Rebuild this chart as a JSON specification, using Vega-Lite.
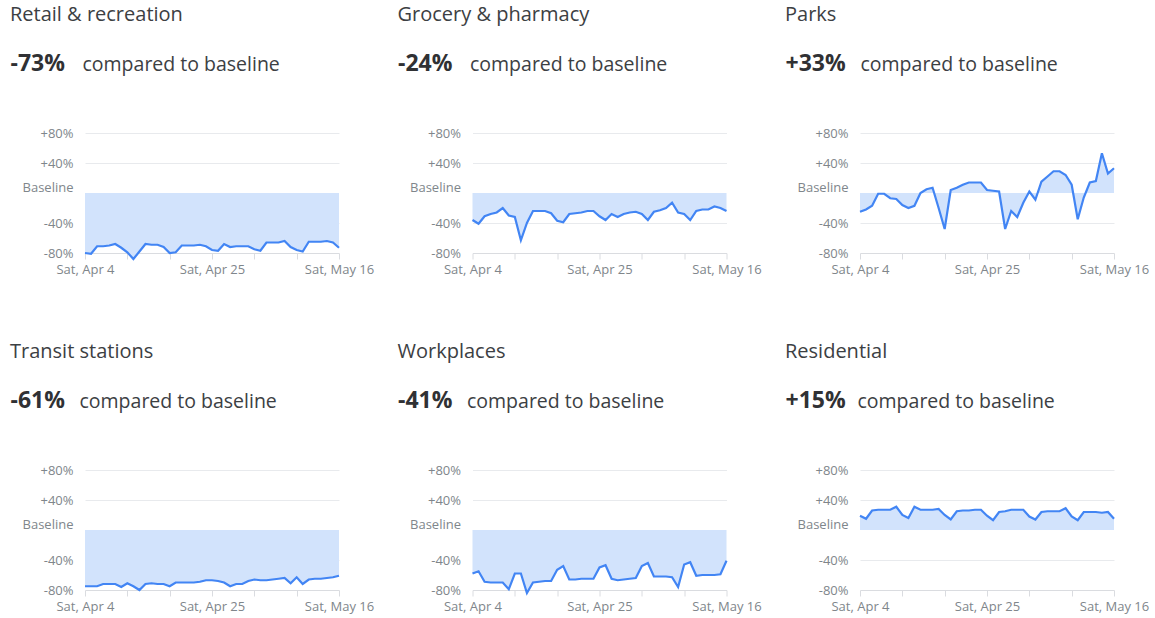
{
  "$schema": "https://vega.github.io/schema/vega-lite/v6.json",
  "padding": {"left": 10, "top": 5, "right": 5, "bottom": 5},
  "background": "white",
  "columns": 3,
  "spacing": {"row": 66, "column": 23.5},
  "config": {
    "font": "Open Sans",
    "view": {"stroke": null},
    "title": {"anchor": "start", "frame": "group", "dx": -75, "fontSize": 20, "fontWeight": "normal", "color": "#3c4043", "offset": 27},
    "axisX": {"title": null, "grid": false, "domain": true, "domainColor": "#dadce0", "tickColor": "#dadce0", "tickSize": 6, "labelFontSize": 13, "labelColor": "#80868b", "labelPadding": 4, "labelFlush": false, "labelOverlap": false},
    "axisLeft": {"grid": true, "gridColor": "#e8eaed", "domain": false, "ticks": false, "labelPadding": 12, "labelFontSize": 13, "labelColor": "#80868b", "titleAngle": 0, "titleAlign": "left", "titleBaseline": "alphabetic", "titleY": -63, "titleFontSize": 23, "titleFontWeight": "bold", "titleColor": "#303134"},
    "axisRight": {"labels": false, "ticks": false, "domain": false, "grid": false, "titleAngle": 0, "titleAlign": "left", "titleBaseline": "alphabetic", "titleY": -63, "titleFontSize": 19.5, "titleFontWeight": "normal", "titleColor": "#3c4043"}
  },
  "datasets": {
    "retail": [
      {"date": "2020-04-04", "change": -80}, {"date": "2020-04-05", "change": -81}, {"date": "2020-04-06", "change": -71}, {"date": "2020-04-07", "change": -71}, {"date": "2020-04-08", "change": -70}, {"date": "2020-04-09", "change": -68}, {"date": "2020-04-10", "change": -73}, {"date": "2020-04-11", "change": -79}, {"date": "2020-04-12", "change": -88}, {"date": "2020-04-13", "change": -78}, {"date": "2020-04-14", "change": -68}, {"date": "2020-04-15", "change": -69}, {"date": "2020-04-16", "change": -69}, {"date": "2020-04-17", "change": -72}, {"date": "2020-04-18", "change": -80}, {"date": "2020-04-19", "change": -79}, {"date": "2020-04-20", "change": -70}, {"date": "2020-04-21", "change": -70}, {"date": "2020-04-22", "change": -70}, {"date": "2020-04-23", "change": -69}, {"date": "2020-04-24", "change": -71}, {"date": "2020-04-25", "change": -76}, {"date": "2020-04-26", "change": -77}, {"date": "2020-04-27", "change": -68}, {"date": "2020-04-28", "change": -72}, {"date": "2020-04-29", "change": -71}, {"date": "2020-04-30", "change": -71}, {"date": "2020-05-01", "change": -71}, {"date": "2020-05-02", "change": -75}, {"date": "2020-05-03", "change": -77}, {"date": "2020-05-04", "change": -66}, {"date": "2020-05-05", "change": -66}, {"date": "2020-05-06", "change": -66}, {"date": "2020-05-07", "change": -64}, {"date": "2020-05-08", "change": -72}, {"date": "2020-05-09", "change": -76}, {"date": "2020-05-10", "change": -78}, {"date": "2020-05-11", "change": -65}, {"date": "2020-05-12", "change": -65}, {"date": "2020-05-13", "change": -65}, {"date": "2020-05-14", "change": -64}, {"date": "2020-05-15", "change": -66}, {"date": "2020-05-16", "change": -73}
    ],
    "grocery": [
      {"date": "2020-04-04", "change": -36}, {"date": "2020-04-05", "change": -41}, {"date": "2020-04-06", "change": -31}, {"date": "2020-04-07", "change": -28}, {"date": "2020-04-08", "change": -26}, {"date": "2020-04-09", "change": -20}, {"date": "2020-04-10", "change": -30}, {"date": "2020-04-11", "change": -32}, {"date": "2020-04-12", "change": -63}, {"date": "2020-04-13", "change": -40}, {"date": "2020-04-14", "change": -24}, {"date": "2020-04-15", "change": -24}, {"date": "2020-04-16", "change": -24}, {"date": "2020-04-17", "change": -27}, {"date": "2020-04-18", "change": -37}, {"date": "2020-04-19", "change": -39}, {"date": "2020-04-20", "change": -28}, {"date": "2020-04-21", "change": -27}, {"date": "2020-04-22", "change": -26}, {"date": "2020-04-23", "change": -24}, {"date": "2020-04-24", "change": -24}, {"date": "2020-04-25", "change": -31}, {"date": "2020-04-26", "change": -36}, {"date": "2020-04-27", "change": -28}, {"date": "2020-04-28", "change": -32}, {"date": "2020-04-29", "change": -28}, {"date": "2020-04-30", "change": -26}, {"date": "2020-05-01", "change": -25}, {"date": "2020-05-02", "change": -28}, {"date": "2020-05-03", "change": -36}, {"date": "2020-05-04", "change": -25}, {"date": "2020-05-05", "change": -23}, {"date": "2020-05-06", "change": -20}, {"date": "2020-05-07", "change": -13}, {"date": "2020-05-08", "change": -26}, {"date": "2020-05-09", "change": -28}, {"date": "2020-05-10", "change": -36}, {"date": "2020-05-11", "change": -24}, {"date": "2020-05-12", "change": -22}, {"date": "2020-05-13", "change": -22}, {"date": "2020-05-14", "change": -18}, {"date": "2020-05-15", "change": -20}, {"date": "2020-05-16", "change": -24}
    ],
    "parks": [
      {"date": "2020-04-04", "change": -25}, {"date": "2020-04-05", "change": -22}, {"date": "2020-04-06", "change": -17}, {"date": "2020-04-07", "change": -1}, {"date": "2020-04-08", "change": -1}, {"date": "2020-04-09", "change": -7}, {"date": "2020-04-10", "change": -8}, {"date": "2020-04-11", "change": -16}, {"date": "2020-04-12", "change": -20}, {"date": "2020-04-13", "change": -17}, {"date": "2020-04-14", "change": 0}, {"date": "2020-04-15", "change": 5}, {"date": "2020-04-16", "change": 7}, {"date": "2020-04-17", "change": -20}, {"date": "2020-04-18", "change": -48}, {"date": "2020-04-19", "change": 4}, {"date": "2020-04-20", "change": 7}, {"date": "2020-04-21", "change": 11}, {"date": "2020-04-22", "change": 14}, {"date": "2020-04-23", "change": 14}, {"date": "2020-04-24", "change": 14}, {"date": "2020-04-25", "change": 4}, {"date": "2020-04-26", "change": 3}, {"date": "2020-04-27", "change": 2}, {"date": "2020-04-28", "change": -48}, {"date": "2020-04-29", "change": -24}, {"date": "2020-04-30", "change": -32}, {"date": "2020-05-01", "change": -13}, {"date": "2020-05-02", "change": 2}, {"date": "2020-05-03", "change": -9}, {"date": "2020-05-04", "change": 15}, {"date": "2020-05-05", "change": 22}, {"date": "2020-05-06", "change": 29}, {"date": "2020-05-07", "change": 29}, {"date": "2020-05-08", "change": 24}, {"date": "2020-05-09", "change": 11}, {"date": "2020-05-10", "change": -35}, {"date": "2020-05-11", "change": -6}, {"date": "2020-05-12", "change": 14}, {"date": "2020-05-13", "change": 16}, {"date": "2020-05-14", "change": 53}, {"date": "2020-05-15", "change": 26}, {"date": "2020-05-16", "change": 33}
    ],
    "transit": [
      {"date": "2020-04-04", "change": -75}, {"date": "2020-04-05", "change": -75}, {"date": "2020-04-06", "change": -75}, {"date": "2020-04-07", "change": -72}, {"date": "2020-04-08", "change": -72}, {"date": "2020-04-09", "change": -72}, {"date": "2020-04-10", "change": -76}, {"date": "2020-04-11", "change": -71}, {"date": "2020-04-12", "change": -75}, {"date": "2020-04-13", "change": -80}, {"date": "2020-04-14", "change": -72}, {"date": "2020-04-15", "change": -71}, {"date": "2020-04-16", "change": -72}, {"date": "2020-04-17", "change": -72}, {"date": "2020-04-18", "change": -75}, {"date": "2020-04-19", "change": -70}, {"date": "2020-04-20", "change": -70}, {"date": "2020-04-21", "change": -70}, {"date": "2020-04-22", "change": -70}, {"date": "2020-04-23", "change": -69}, {"date": "2020-04-24", "change": -67}, {"date": "2020-04-25", "change": -67}, {"date": "2020-04-26", "change": -68}, {"date": "2020-04-27", "change": -70}, {"date": "2020-04-28", "change": -75}, {"date": "2020-04-29", "change": -72}, {"date": "2020-04-30", "change": -72}, {"date": "2020-05-01", "change": -68}, {"date": "2020-05-02", "change": -66}, {"date": "2020-05-03", "change": -67}, {"date": "2020-05-04", "change": -67}, {"date": "2020-05-05", "change": -66}, {"date": "2020-05-06", "change": -65}, {"date": "2020-05-07", "change": -64}, {"date": "2020-05-08", "change": -71}, {"date": "2020-05-09", "change": -63}, {"date": "2020-05-10", "change": -72}, {"date": "2020-05-11", "change": -66}, {"date": "2020-05-12", "change": -65}, {"date": "2020-05-13", "change": -65}, {"date": "2020-05-14", "change": -64}, {"date": "2020-05-15", "change": -63}, {"date": "2020-05-16", "change": -61}
    ],
    "workplaces": [
      {"date": "2020-04-04", "change": -58}, {"date": "2020-04-05", "change": -55}, {"date": "2020-04-06", "change": -69}, {"date": "2020-04-07", "change": -70}, {"date": "2020-04-08", "change": -70}, {"date": "2020-04-09", "change": -70}, {"date": "2020-04-10", "change": -79}, {"date": "2020-04-11", "change": -58}, {"date": "2020-04-12", "change": -58}, {"date": "2020-04-13", "change": -84}, {"date": "2020-04-14", "change": -70}, {"date": "2020-04-15", "change": -69}, {"date": "2020-04-16", "change": -68}, {"date": "2020-04-17", "change": -68}, {"date": "2020-04-18", "change": -53}, {"date": "2020-04-19", "change": -48}, {"date": "2020-04-20", "change": -66}, {"date": "2020-04-21", "change": -66}, {"date": "2020-04-22", "change": -65}, {"date": "2020-04-23", "change": -65}, {"date": "2020-04-24", "change": -65}, {"date": "2020-04-25", "change": -50}, {"date": "2020-04-26", "change": -47}, {"date": "2020-04-27", "change": -65}, {"date": "2020-04-28", "change": -67}, {"date": "2020-04-29", "change": -66}, {"date": "2020-04-30", "change": -65}, {"date": "2020-05-01", "change": -64}, {"date": "2020-05-02", "change": -48}, {"date": "2020-05-03", "change": -44}, {"date": "2020-05-04", "change": -62}, {"date": "2020-05-05", "change": -62}, {"date": "2020-05-06", "change": -62}, {"date": "2020-05-07", "change": -63}, {"date": "2020-05-08", "change": -76}, {"date": "2020-05-09", "change": -46}, {"date": "2020-05-10", "change": -43}, {"date": "2020-05-11", "change": -61}, {"date": "2020-05-12", "change": -60}, {"date": "2020-05-13", "change": -60}, {"date": "2020-05-14", "change": -60}, {"date": "2020-05-15", "change": -59}, {"date": "2020-05-16", "change": -41}
    ],
    "residential": [
      {"date": "2020-04-04", "change": 19}, {"date": "2020-04-05", "change": 15}, {"date": "2020-04-06", "change": 26}, {"date": "2020-04-07", "change": 27}, {"date": "2020-04-08", "change": 27}, {"date": "2020-04-09", "change": 27}, {"date": "2020-04-10", "change": 31}, {"date": "2020-04-11", "change": 20}, {"date": "2020-04-12", "change": 16}, {"date": "2020-04-13", "change": 31}, {"date": "2020-04-14", "change": 27}, {"date": "2020-04-15", "change": 27}, {"date": "2020-04-16", "change": 27}, {"date": "2020-04-17", "change": 28}, {"date": "2020-04-18", "change": 20}, {"date": "2020-04-19", "change": 14}, {"date": "2020-04-20", "change": 25}, {"date": "2020-04-21", "change": 26}, {"date": "2020-04-22", "change": 26}, {"date": "2020-04-23", "change": 27}, {"date": "2020-04-24", "change": 27}, {"date": "2020-04-25", "change": 19}, {"date": "2020-04-26", "change": 13}, {"date": "2020-04-27", "change": 24}, {"date": "2020-04-28", "change": 25}, {"date": "2020-04-29", "change": 27}, {"date": "2020-04-30", "change": 27}, {"date": "2020-05-01", "change": 27}, {"date": "2020-05-02", "change": 18}, {"date": "2020-05-03", "change": 14}, {"date": "2020-05-04", "change": 24}, {"date": "2020-05-05", "change": 25}, {"date": "2020-05-06", "change": 25}, {"date": "2020-05-07", "change": 25}, {"date": "2020-05-08", "change": 29}, {"date": "2020-05-09", "change": 18}, {"date": "2020-05-10", "change": 13}, {"date": "2020-05-11", "change": 24}, {"date": "2020-05-12", "change": 24}, {"date": "2020-05-13", "change": 24}, {"date": "2020-05-14", "change": 23}, {"date": "2020-05-15", "change": 24}, {"date": "2020-05-16", "change": 15}
    ]
  },
  "concat": [
    {
      "width": 254, "height": 120,
      "title": {"text": "Retail & recreation"},
      "data": {"name": "retail"},
      "layer": [
        {"mark": {"type": "area", "color": "#d2e3fc", "opacity": 1},
         "encoding": {
           "x": {"field": "date", "type": "temporal", "scale": {"type": "utc"}, "axis": {"values": [{"year": 2020, "month": 4, "date": 4, "utc": true}, {"year": 2020, "month": 4, "date": 11, "utc": true}, {"year": 2020, "month": 4, "date": 18, "utc": true}, {"year": 2020, "month": 4, "date": 25, "utc": true}, {"year": 2020, "month": 5, "date": 2, "utc": true}, {"year": 2020, "month": 5, "date": 9, "utc": true}, {"year": 2020, "month": 5, "date": 16, "utc": true}], "labelExpr": "indexof([4, 25, 16], utcdate(datum.value)) >= 0 ? utcFormat(datum.value, '%a, %b %-d') : ''"}},
           "y": {"field": "change", "type": "quantitative", "scale": {"domain": [-80, 80], "nice": false}, "axis": {"title": "-73%", "titleX": -75, "values": [-80, -40, 0, 40, 80], "labelExpr": "datum.value == 0 ? 'Baseline' : (datum.value > 0 ? '+' : '') + datum.value + '%'", "gridOpacity": {"condition": {"test": "datum.value == 0 || datum.value == -80", "value": 0}, "value": 1}, "labelOffset": {"condition": {"test": "datum.value == 0", "value": -6}, "value": 0}}},
           "y2": {"datum": 0}
         }},
        {"mark": {"type": "line", "color": "#4285f4", "strokeWidth": 2.2},
         "encoding": {
           "x": {"field": "date", "type": "temporal"},
           "y": {"field": "change", "type": "quantitative", "axis": {"orient": "right", "title": "compared to baseline", "titleX": -257}}
         }}
      ],
      "resolve": {"axis": {"y": "independent"}}
    },
    {
      "width": 254, "height": 120,
      "title": {"text": "Grocery & pharmacy"},
      "data": {"name": "grocery"},
      "layer": [
        {"mark": {"type": "area", "color": "#d2e3fc", "opacity": 1},
         "encoding": {
           "x": {"field": "date", "type": "temporal", "scale": {"type": "utc"}, "axis": {"values": [{"year": 2020, "month": 4, "date": 4, "utc": true}, {"year": 2020, "month": 4, "date": 11, "utc": true}, {"year": 2020, "month": 4, "date": 18, "utc": true}, {"year": 2020, "month": 4, "date": 25, "utc": true}, {"year": 2020, "month": 5, "date": 2, "utc": true}, {"year": 2020, "month": 5, "date": 9, "utc": true}, {"year": 2020, "month": 5, "date": 16, "utc": true}], "labelExpr": "indexof([4, 25, 16], utcdate(datum.value)) >= 0 ? utcFormat(datum.value, '%a, %b %-d') : ''"}},
           "y": {"field": "change", "type": "quantitative", "scale": {"domain": [-80, 80], "nice": false}, "axis": {"title": "-24%", "titleX": -75, "values": [-80, -40, 0, 40, 80], "labelExpr": "datum.value == 0 ? 'Baseline' : (datum.value > 0 ? '+' : '') + datum.value + '%'", "gridOpacity": {"condition": {"test": "datum.value == 0 || datum.value == -80", "value": 0}, "value": 1}, "labelOffset": {"condition": {"test": "datum.value == 0", "value": -6}, "value": 0}}},
           "y2": {"datum": 0}
         }},
        {"mark": {"type": "line", "color": "#4285f4", "strokeWidth": 2.2},
         "encoding": {
           "x": {"field": "date", "type": "temporal"},
           "y": {"field": "change", "type": "quantitative", "axis": {"orient": "right", "title": "compared to baseline", "titleX": -257}}
         }}
      ],
      "resolve": {"axis": {"y": "independent"}}
    },
    {
      "width": 254, "height": 120,
      "title": {"text": "Parks"},
      "data": {"name": "parks"},
      "layer": [
        {"mark": {"type": "area", "color": "#d2e3fc", "opacity": 1},
         "encoding": {
           "x": {"field": "date", "type": "temporal", "scale": {"type": "utc"}, "axis": {"values": [{"year": 2020, "month": 4, "date": 4, "utc": true}, {"year": 2020, "month": 4, "date": 11, "utc": true}, {"year": 2020, "month": 4, "date": 18, "utc": true}, {"year": 2020, "month": 4, "date": 25, "utc": true}, {"year": 2020, "month": 5, "date": 2, "utc": true}, {"year": 2020, "month": 5, "date": 9, "utc": true}, {"year": 2020, "month": 5, "date": 16, "utc": true}], "labelExpr": "indexof([4, 25, 16], utcdate(datum.value)) >= 0 ? utcFormat(datum.value, '%a, %b %-d') : ''"}},
           "y": {"field": "change", "type": "quantitative", "scale": {"domain": [-80, 80], "nice": false}, "axis": {"title": "+33%", "titleX": -75, "values": [-80, -40, 0, 40, 80], "labelExpr": "datum.value == 0 ? 'Baseline' : (datum.value > 0 ? '+' : '') + datum.value + '%'", "gridOpacity": {"condition": {"test": "datum.value == 0 || datum.value == -80", "value": 0}, "value": 1}, "labelOffset": {"condition": {"test": "datum.value == 0", "value": -6}, "value": 0}}},
           "y2": {"datum": 0}
         }},
        {"mark": {"type": "line", "color": "#4285f4", "strokeWidth": 2.2},
         "encoding": {
           "x": {"field": "date", "type": "temporal"},
           "y": {"field": "change", "type": "quantitative", "axis": {"orient": "right", "title": "compared to baseline", "titleX": -254}}
         }}
      ],
      "resolve": {"axis": {"y": "independent"}}
    },
    {
      "width": 254, "height": 120,
      "title": {"text": "Transit stations"},
      "data": {"name": "transit"},
      "layer": [
        {"mark": {"type": "area", "color": "#d2e3fc", "opacity": 1},
         "encoding": {
           "x": {"field": "date", "type": "temporal", "scale": {"type": "utc"}, "axis": {"values": [{"year": 2020, "month": 4, "date": 4, "utc": true}, {"year": 2020, "month": 4, "date": 11, "utc": true}, {"year": 2020, "month": 4, "date": 18, "utc": true}, {"year": 2020, "month": 4, "date": 25, "utc": true}, {"year": 2020, "month": 5, "date": 2, "utc": true}, {"year": 2020, "month": 5, "date": 9, "utc": true}, {"year": 2020, "month": 5, "date": 16, "utc": true}], "labelExpr": "indexof([4, 25, 16], utcdate(datum.value)) >= 0 ? utcFormat(datum.value, '%a, %b %-d') : ''"}},
           "y": {"field": "change", "type": "quantitative", "scale": {"domain": [-80, 80], "nice": false}, "axis": {"title": "-61%", "titleX": -75, "values": [-80, -40, 0, 40, 80], "labelExpr": "datum.value == 0 ? 'Baseline' : (datum.value > 0 ? '+' : '') + datum.value + '%'", "gridOpacity": {"condition": {"test": "datum.value == 0 || datum.value == -80", "value": 0}, "value": 1}, "labelOffset": {"condition": {"test": "datum.value == 0", "value": -6}, "value": 0}}},
           "y2": {"datum": 0}
         }},
        {"mark": {"type": "line", "color": "#4285f4", "strokeWidth": 2.2},
         "encoding": {
           "x": {"field": "date", "type": "temporal"},
           "y": {"field": "change", "type": "quantitative", "axis": {"orient": "right", "title": "compared to baseline", "titleX": -260}}
         }}
      ],
      "resolve": {"axis": {"y": "independent"}}
    },
    {
      "width": 254, "height": 120,
      "title": {"text": "Workplaces"},
      "data": {"name": "workplaces"},
      "layer": [
        {"mark": {"type": "area", "color": "#d2e3fc", "opacity": 1},
         "encoding": {
           "x": {"field": "date", "type": "temporal", "scale": {"type": "utc"}, "axis": {"values": [{"year": 2020, "month": 4, "date": 4, "utc": true}, {"year": 2020, "month": 4, "date": 11, "utc": true}, {"year": 2020, "month": 4, "date": 18, "utc": true}, {"year": 2020, "month": 4, "date": 25, "utc": true}, {"year": 2020, "month": 5, "date": 2, "utc": true}, {"year": 2020, "month": 5, "date": 9, "utc": true}, {"year": 2020, "month": 5, "date": 16, "utc": true}], "labelExpr": "indexof([4, 25, 16], utcdate(datum.value)) >= 0 ? utcFormat(datum.value, '%a, %b %-d') : ''"}},
           "y": {"field": "change", "type": "quantitative", "scale": {"domain": [-80, 80], "nice": false}, "axis": {"title": "-41%", "titleX": -75, "values": [-80, -40, 0, 40, 80], "labelExpr": "datum.value == 0 ? 'Baseline' : (datum.value > 0 ? '+' : '') + datum.value + '%'", "gridOpacity": {"condition": {"test": "datum.value == 0 || datum.value == -80", "value": 0}, "value": 1}, "labelOffset": {"condition": {"test": "datum.value == 0", "value": -6}, "value": 0}}},
           "y2": {"datum": 0}
         }},
        {"mark": {"type": "line", "color": "#4285f4", "strokeWidth": 2.2},
         "encoding": {
           "x": {"field": "date", "type": "temporal"},
           "y": {"field": "change", "type": "quantitative", "axis": {"orient": "right", "title": "compared to baseline", "titleX": -260}}
         }}
      ],
      "resolve": {"axis": {"y": "independent"}}
    },
    {
      "width": 254, "height": 120,
      "title": {"text": "Residential"},
      "data": {"name": "residential"},
      "layer": [
        {"mark": {"type": "area", "color": "#d2e3fc", "opacity": 1},
         "encoding": {
           "x": {"field": "date", "type": "temporal", "scale": {"type": "utc"}, "axis": {"values": [{"year": 2020, "month": 4, "date": 4, "utc": true}, {"year": 2020, "month": 4, "date": 11, "utc": true}, {"year": 2020, "month": 4, "date": 18, "utc": true}, {"year": 2020, "month": 4, "date": 25, "utc": true}, {"year": 2020, "month": 5, "date": 2, "utc": true}, {"year": 2020, "month": 5, "date": 9, "utc": true}, {"year": 2020, "month": 5, "date": 16, "utc": true}], "labelExpr": "indexof([4, 25, 16], utcdate(datum.value)) >= 0 ? utcFormat(datum.value, '%a, %b %-d') : ''"}},
           "y": {"field": "change", "type": "quantitative", "scale": {"domain": [-80, 80], "nice": false}, "axis": {"title": "+15%", "titleX": -75, "values": [-80, -40, 0, 40, 80], "labelExpr": "datum.value == 0 ? 'Baseline' : (datum.value > 0 ? '+' : '') + datum.value + '%'", "gridOpacity": {"condition": {"test": "datum.value == 0 || datum.value == -80", "value": 0}, "value": 1}, "labelOffset": {"condition": {"test": "datum.value == 0", "value": -6}, "value": 0}}},
           "y2": {"datum": 0}
         }},
        {"mark": {"type": "line", "color": "#4285f4", "strokeWidth": 2.2},
         "encoding": {
           "x": {"field": "date", "type": "temporal"},
           "y": {"field": "change", "type": "quantitative", "axis": {"orient": "right", "title": "compared to baseline", "titleX": -257}}
         }}
      ],
      "resolve": {"axis": {"y": "independent"}}
    }
  ]
}
